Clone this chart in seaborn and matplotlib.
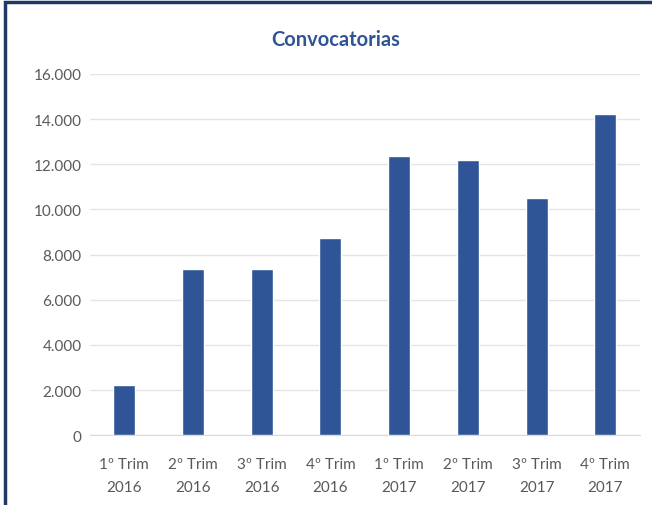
import pandas as pd
import numpy as np
import seaborn as sns
import matplotlib.pyplot as plt
from matplotlib.patches import Rectangle
from matplotlib.ticker import FuncFormatter

# Data
trimestres = ['1º Trim\n2016', '2º Trim\n2016', '3º Trim\n2016', '4º Trim\n2016',
              '1º Trim\n2017', '2º Trim\n2017', '3º Trim\n2017', '4º Trim\n2017']
convocatorias = [2230, 7380, 7380, 8710, 12370, 12180, 10520, 14210]
y_ticks = [0, 2000, 4000, 6000, 8000, 10000, 12000, 14000, 16000]

data = pd.DataFrame({'trimestre': trimestres, 'convocatorias': convocatorias})

sns.set_style('white')
plt.rcParams['font.family'] = ['Lato', 'DejaVu Sans']

fig = plt.figure(figsize=(6.52, 5.06), dpi=100)
ax = fig.add_axes([0.138, 0.138, 0.843, 0.714])

sns.barplot(data=data, x='trimestre', y='convocatorias', color='#2F5597',
            saturation=1, width=0.32, ax=ax, zorder=3)

ax.set_ylim(0, 16000)
ax.set_xlim(-0.5, 7.5)
ax.set_yticks(y_ticks)
ax.yaxis.set_major_formatter(FuncFormatter(lambda v, p: f'{int(v):,}'.replace(',', '.')))
ax.grid(axis='y', color='#E4E4E4', linewidth=1, zorder=0)
ax.set_xlabel('')
ax.set_ylabel('')
for s in ['top', 'right', 'left']:
    ax.spines[s].set_visible(False)
ax.spines['bottom'].set_color('#D9D9D9')
ax.tick_params(axis='both', colors='#595959', labelsize=11, length=0)
ax.tick_params(axis='x', pad=16)
ax.tick_params(axis='y', pad=6)
for lbl in ax.get_xticklabels():
    lbl.set_linespacing(1.75)

fig.text(0.515, 0.921, 'Convocatorias', ha='center', va='center',
         fontsize=14.5, fontweight='bold', color='#2F5597')

# Frame around the chart
fig.patches.append(Rectangle((0.008, -0.05), 1.1, 1.044, transform=fig.transFigure,
                             fill=False, edgecolor='#1F3864', linewidth=2.5))

plt.savefig('out.png', dpi=100)
